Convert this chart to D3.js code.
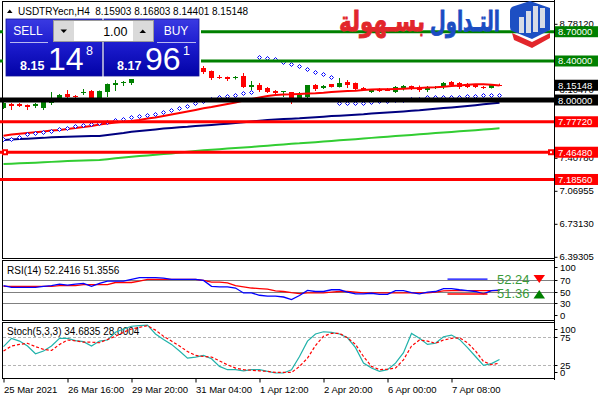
<!DOCTYPE html>
<html><head><meta charset="utf-8">
<script src="https://cdn.jsdelivr.net/npm/d3@7"></script>
<style>body{margin:0;background:#fff}svg{display:block}</style>
</head><body><svg id="c" width="600" height="400"></svg>
<script>
// ---------- DATA ----------
const symbol = "USDTRYecn,H4";
const xTickIndex = [0,8,16,24,32,40,48,56];
const xTickLabels = ["25 Mar 2021","26 Mar 16:00","29 Mar 20:00","31 Mar 04:00","1 Apr 12:00","2 Apr 20:00","6 Apr 00:00","7 Apr 08:00"];
const open = [7.9180,7.9641,7.9590,7.9488,7.9385,7.9231,7.9693,8.0000,8.0615,8.0410,
 8.0718,8.0923,8.0205,8.0820,8.1538,8.1743,8.1743,8.2870,8.2563,8.3485,
 8.4100,8.3690,8.4305,8.3895,8.3485,8.3280,8.2973,8.2409,8.2358,8.2255,
 8.2460,8.1333,8.1538,8.1230,8.0923,8.0871,8.0820,8.0205,8.0308,8.1538,
 8.1230,8.1640,8.1333,8.1845,8.1743,8.1230,8.0820,8.1128,8.1179,8.0820,
 8.1128,8.1435,8.1333,8.1025,8.1230,8.1435,8.1845,8.1743,8.1640,8.1538,
 8.1333,8.1230,8.15903];
const high = [7.9795,7.9693,7.9693,7.9539,7.9693,7.9898,8.0820,8.0615,8.1025,8.0513,
 8.1128,8.1025,8.0974,8.1691,8.2050,8.1948,8.2358,8.3075,8.3690,8.4305,
 8.4356,8.4438,8.4305,8.4100,8.3690,8.3485,8.3024,8.2563,8.2409,8.2460,
 8.2768,8.1948,8.1743,8.1333,8.1025,8.0923,8.0820,8.0820,8.1538,8.1640,
 8.1538,8.1640,8.2255,8.2050,8.1794,8.1333,8.1128,8.1230,8.1230,8.1435,
 8.1538,8.1486,8.1486,8.1435,8.1435,8.1845,8.1948,8.1845,8.1743,8.1640,
 8.1435,8.1589,8.16803];
const low = [7.9078,7.8975,7.9283,7.8975,7.9180,7.8975,7.9488,7.9898,8.0205,8.0205,
 8.0513,8.0103,8.0154,8.0308,8.0923,8.1435,8.1538,8.2153,8.2153,8.3280,
 8.2153,8.3485,8.3690,8.3280,8.2973,8.2665,8.2050,8.2153,8.1948,8.2101,
 8.1230,8.1025,8.0820,8.0718,8.0615,8.0308,7.9590,8.0103,8.0205,8.0923,
 8.1128,8.1281,8.1281,8.1230,8.1025,8.0923,8.0718,8.0820,8.0923,8.0718,
 8.0974,8.1025,8.0820,8.0820,8.1128,8.1128,8.1333,8.1128,8.1230,8.1230,
 8.1128,8.1179,8.14401];
const close = [7.9693,7.9385,7.9385,7.9283,7.9590,7.9795,7.9846,8.0513,8.0359,8.0308,
 8.0820,8.0205,8.0923,8.1640,8.1743,8.1845,8.2255,8.2563,8.3485,8.4100,
 8.3690,8.4305,8.3895,8.3485,8.3178,8.2870,8.2255,8.2306,8.2153,8.2409,
 8.1333,8.1538,8.1025,8.0820,8.0718,8.0923,8.0205,8.0513,8.1538,8.1128,
 8.1435,8.1333,8.1743,8.1538,8.1128,8.1025,8.1025,8.0923,8.0974,8.1333,
 8.1435,8.1128,8.1025,8.1230,8.1333,8.1743,8.1538,8.1333,8.1333,8.1333,
 8.1230,8.1538,8.15148];
const maFast = [7.634,7.646,7.654,7.662,7.669,7.677,7.687,7.692,7.703,7.713,
 7.723,7.733,7.749,7.759,7.769,7.778,7.785,7.795,7.810,7.821,
 7.836,7.851,7.867,7.882,7.898,7.915,7.928,7.944,7.959,7.974,
 7.995,8.010,8.026,8.041,8.051,8.056,8.058,8.062,8.066,8.069,
 8.074,8.082,8.087,8.092,8.095,8.103,8.108,8.110,8.110,8.113,
 8.116,8.120,8.123,8.128,8.130,8.136,8.144,8.149,8.156,8.161,
 8.161,8.156,8.149];
const maMid = [7.590,7.595,7.600,7.604,7.608,7.612,7.618,7.621,7.624,7.626,
 7.628,7.630,7.631,7.641,7.652,7.662,7.674,7.682,7.690,7.699,
 7.707,7.713,7.720,7.726,7.734,7.739,7.745,7.751,7.757,7.764,
 7.771,7.780,7.788,7.795,7.801,7.805,7.809,7.812,7.818,7.824,
 7.829,7.835,7.840,7.845,7.850,7.854,7.861,7.866,7.872,7.877,
 7.883,7.889,7.895,7.903,7.910,7.917,7.924,7.931,7.939,7.947,
 7.956,7.964,7.972];
const maSlow = [7.344,7.348,7.351,7.354,7.358,7.362,7.366,7.371,7.375,7.377,
 7.380,7.382,7.385,7.393,7.402,7.410,7.419,7.426,7.432,7.438,
 7.446,7.453,7.462,7.470,7.478,7.484,7.490,7.496,7.502,7.508,
 7.513,7.519,7.525,7.532,7.539,7.545,7.552,7.556,7.562,7.568,
 7.574,7.581,7.587,7.593,7.599,7.605,7.612,7.618,7.624,7.630,
 7.636,7.642,7.648,7.655,7.661,7.667,7.673,7.679,7.685,7.691,
 7.698,7.704,7.710];
const sar = [7.6003,7.6033,7.6177,7.6484,7.6587,7.6689,7.6823,7.6997,7.7161,7.7335,
 7.7468,7.7571,7.7673,7.7776,7.7950,7.8083,7.8258,7.8360,7.8432,7.8534,
 7.8801,7.8944,7.9211,7.9436,7.9662,7.9898,8.0103,8.0338,8.0441,8.0513,
 8.0687,8.0851,8.4438,8.4336,8.4172,8.3946,8.3721,8.3485,8.3147,8.2839,
 8.2634,8.2327,7.9723,7.9723,7.9723,7.9723,7.9816,7.9877,7.9939,8.0000,
 8.0051,8.0103,8.0144,8.0277,8.0277,8.0308,8.0308,8.0338,8.0410,8.0410,
 8.0482,8.0513,8.0543];
const levelPrices = [8.70000, 8.40000, 8.00000, 7.77720, 7.46480, 7.18560];
const priceTicks = [8.78120, 8.10470, 7.40780, 7.06955, 6.73130, 6.39305];
const rsi = [60,57,57,57,57,59,60,62.6,61,62.6,
 64,59,64,68,68,68,71,74,74,74,
 73,71,71,71,71,69,59,58,58,56,
 47.5,47.5,43.5,42,42,40.5,36,43,52,50,
 50,53,53,49,46,46,47,45,45,51.6,
 51.6,48,46,49,50,55,55,53,51.6,50,
 46,51.6,52.2416];
const rsiSignal = [59,59,59,59,59,59,59,60,60,60,
 62,62,62,62,65.5,65.5,65.5,68,71,71,
 71,71,71,71,71,69,66,66,65,60,
 58,56,55,54,51,50,48,46.5,47.5,47.5,
 47.5,49,50,50,49,47.5,47.5,47.5,47.5,47.5,
 47.5,47.5,47.5,47.5,49,51,51.5,51.5,51.5,51.5,
 51.4,51.4,51.3556];
const rsiLevels = [70,50,30];
const rsiTicks = [100,70,50,30,0];
const rsiMarks = [71.5, 45.7];
const rsiMarkSpan = [55.5, 60.5];
const stochMain = [58,73,68,59,45,50,59,73,73,69,
 67,59,68,70,84,90,95,96,97,81,
 71,62,50,37,39,42,36,22,16,16,
 14,16,16,13,10,10,16,40,68,81,
 85,84,81,74,56,28,19,13,16,28,
 47,82,73,62,64,76,79,71,56,40,
 24,27,34.6835];
const stochSignal = [50,59,62,64,58,53,51,62,70,68.5,
 66,66,65,71,77,84,90,93,96,88,
 77,68,59,49,42,40,39,32,25,19,
 16,15,14,13,11,11,11,22,37,60,
 77,82,82,74,62,40,22,16,17,19,
 34,59,70,68,64,70,73,74,65,50,
 31,25,28.0004];
const stochLevels = [75,25];
const stochTicks = [100,75,25,0];
const askPrice = 8.17961;
const lotSize = "1.00";

// ---------- SCALES ----------
const N = close.length;
const svg = d3.select("#c");
const FONT = "Liberation Sans, Arial, sans-serif";
const x = d3.scaleLinear().domain([0, N-1]).range([3.5, 499.5]);
const y = d3.scaleLinear().domain([6.39305, 8.78120]).range([256.8, 23.8]);
const yR = d3.scaleLinear().domain([0,100]).range([320.5, 262.5]);
const yS = d3.scaleLinear().domain([0,100]).range([378.5, 323.5]);
const f5 = d3.format(".5f");

const defs = svg.append("defs");
[["cm",3,2,551,256],["cr",3,261,551,59],["cs",3,323,551,55]].forEach(([id,cx,cy,w,h])=>{
  defs.append("clipPath").attr("id",id).append("rect").attr("x",cx).attr("y",cy).attr("width",w).attr("height",h);
});
const grad = defs.append("linearGradient").attr("id","pg").attr("x1",0).attr("y1",0).attr("x2",0).attr("y2",1);
grad.append("stop").attr("offset","0%").attr("stop-color","#3a3ae2");
grad.append("stop").attr("offset","45%").attr("stop-color","#1c1cce");
grad.append("stop").attr("offset","100%").attr("stop-color","#0202a6");

// ---------- FRAMES ----------
svg.append("rect").attr("x",2.5).attr("y",1.5).attr("width",552).attr("height",257).attr("fill","none").attr("stroke","#000");
svg.append("rect").attr("x",2.5).attr("y",260.5).attr("width",552).attr("height",60).attr("fill","none").attr("stroke","#000");
svg.append("rect").attr("x",2.5).attr("y",322.5).attr("width",552).attr("height",56).attr("fill","none").attr("stroke","#000");
svg.append("line").attr("x1",554.5).attr("x2",554.5).attr("y1",0).attr("y2",380).attr("stroke","#000");

// ---------- PRICE AXIS ----------
const pAxis = svg.append("g").attr("transform","translate(554.5,0)")
  .call(d3.axisRight(y).tickValues(priceTicks).tickFormat(f5).tickSize(3).tickPadding(2));
pAxis.select(".domain").remove();
pAxis.selectAll("text").attr("font-family",FONT).attr("font-size",9.5).attr("fill","#000");

// ---------- MAIN CHART ----------
const main = svg.append("g").attr("clip-path","url(#cm)");
const line = d3.line().x((d,i)=>x(i)).y(d=>y(d));
main.append("path").attr("d",line(maSlow)).attr("fill","none").attr("stroke","#32cd32").attr("stroke-width",2);
main.append("path").attr("d",line(maMid)).attr("fill","none").attr("stroke","#000080").attr("stroke-width",2);

const idx = d3.range(N);
const col = i => close[i] >= open[i] ? "#008000" : "#ff0000";
main.append("g").selectAll("line").data(idx).join("line")
  .attr("x1",i=>x(i)).attr("x2",i=>x(i)).attr("y1",i=>y(high[i])).attr("y2",i=>y(low[i])).attr("stroke",col);
main.append("g").selectAll("rect").data(idx).join("rect")
  .attr("x",i=>x(i)-2.5).attr("width",5)
  .attr("y",i=>Math.round(y(Math.max(open[i],close[i]))))
  .attr("height",i=>Math.max(1,Math.round(y(Math.min(open[i],close[i])))-Math.round(y(Math.max(open[i],close[i])))))
  .attr("fill",col);
main.append("path").attr("d",line(maFast)).attr("fill","none").attr("stroke","#ff0000").attr("stroke-width",2);
main.append("g").selectAll("path").data(idx).join("path")
  .attr("d",i=>{const cx=x(i), cy=Math.round(y(sar[i]))+0.5; return `M${cx},${cy-2}L${cx+2},${cy}L${cx},${cy+2}L${cx-2},${cy}Z`;})
  .attr("fill","#fff").attr("stroke","#0000ff").attr("stroke-width",1);

// horizontal level lines
const levelColors = ["#008000","#008000","#000000","#ff0000","#ff0000","#ff0000"];
const levelWidths = [3,3,5,3,3,3];
svg.append("g").selectAll("line").data(levelPrices).join("line")
  .attr("x1",0).attr("x2",554).attr("y1",d=>y(d)).attr("y2",d=>y(d))
  .attr("stroke",(d,i)=>levelColors[i]).attr("stroke-width",(d,i)=>levelWidths[i]);
[2,548].forEach(ax=>{
  svg.append("rect").attr("x",ax).attr("y",y(levelPrices[4])-3).attr("width",6).attr("height",6).attr("fill","#ff0000");
  svg.append("rect").attr("x",ax+2).attr("y",y(levelPrices[4])-1).attr("width",2).attr("height",2).attr("fill","#fff");
});

function axisLabel(price, bg){
  const cy = y(price);
  svg.append("rect").attr("x",555).attr("y",cy-5.5).attr("width",43).attr("height",11).attr("fill",bg);
  svg.append("text").attr("x",558).attr("y",cy+3.5).attr("font-family",FONT).attr("font-size",9.5)
    .attr("fill","#fff").text(f5(price));
}
levelPrices.forEach((p,i)=>axisLabel(p, levelColors[i]));
axisLabel(close[N-1], "#000");

// header
svg.append("path").attr("d","M7,13L12.5,13L9.75,9.5Z").attr("fill","#000");
svg.append("text").attr("x",18).attr("y",14.5).attr("font-family",FONT).attr("font-size",10).attr("fill","#000")
  .attr("xml:space","preserve")
  .text(`${symbol}  ${f5(open[N-1])} ${f5(high[N-1])} ${f5(low[N-1])} ${f5(close[N-1])}`);

// ---------- RSI ----------
const rsiG = svg.append("g");
rsiG.selectAll("line.lv").data(rsiLevels).join("line").attr("class","lv")
  .attr("x1",3).attr("x2",554).attr("y1",d=>Math.round(yR(d))+0.5).attr("y2",d=>Math.round(yR(d))+0.5).attr("stroke","#808080");
const rc = rsiG.append("g").attr("clip-path","url(#cr)");
const lineR = d3.line().x((d,i)=>x(i)).y(d=>yR(d));
rc.append("path").attr("d",lineR(rsiSignal)).attr("fill","none").attr("stroke","#ff0000").attr("stroke-width",1.3);
rc.append("path").attr("d",lineR(rsi)).attr("fill","none").attr("stroke","#0000ff").attr("stroke-width",1.3);
const markColors = ["#0000ff","#ff0000"];
rc.selectAll("line.mk").data(rsiMarks).join("line").attr("class","mk")
  .attr("x1",x(rsiMarkSpan[0])).attr("x2",x(rsiMarkSpan[1])).attr("y1",d=>yR(d)).attr("y2",d=>yR(d))
  .attr("stroke",(d,i)=>markColors[i]).attr("stroke-width",1.3);
const fmt2 = d3.format(".2f"), fmt4 = d3.format(".4f");
rsiG.append("text").attr("x",7).attr("y",274).attr("font-family",FONT).attr("font-size",10).attr("fill","#000")
  .text(`RSI(14) ${fmt4(rsi[N-1])} ${fmt4(rsiSignal[N-1])}`);
rsiG.append("text").attr("x",497).attr("y",yR(rsiMarks[0])+4.5).attr("font-family",FONT).attr("font-size",13).attr("fill","#3a9a3a").text(fmt2(rsi[N-1]));
rsiG.append("text").attr("x",497).attr("y",yR(rsiMarks[1])+4.5).attr("font-family",FONT).attr("font-size",13).attr("fill","#3a9a3a").text(fmt2(rsiSignal[N-1]));
rsiG.append("path").attr("d",`M533.5,${yR(rsiMarks[0])-4}L545,${yR(rsiMarks[0])-4}L539.25,${yR(rsiMarks[0])+4}Z`).attr("fill","#ff0000");
rsiG.append("path").attr("d",`M533.5,${yR(rsiMarks[1])+4.5}L545,${yR(rsiMarks[1])+4.5}L539.25,${yR(rsiMarks[1])-4}Z`).attr("fill","#008000");
rsiTicks.forEach(v=>{
  const ty = Math.max(267.5, Math.min(315.5, Math.round(yR(v))+0.5));
  rsiG.append("line").attr("x1",554.5).attr("x2",557.5).attr("y1",ty).attr("y2",ty).attr("stroke","#000");
  rsiG.append("text").attr("x",560).attr("y",ty+3.5).attr("font-family",FONT).attr("font-size",9.5).attr("fill","#000").text(v);
});

// ---------- STOCH ----------
const stG = svg.append("g");
stG.selectAll("line.lv").data(stochLevels).join("line").attr("class","lv")
  .attr("x1",3).attr("x2",554).attr("y1",d=>Math.round(yS(d))+0.5).attr("y2",d=>Math.round(yS(d))+0.5)
  .attr("stroke","#b4b4b4").attr("stroke-dasharray","3,2");
stG.append("text").attr("x",7).attr("y",335).attr("font-family",FONT).attr("font-size",10).attr("fill","#000")
  .text(`Stoch(5,3,3) ${fmt4(stochMain[N-1])} ${fmt4(stochSignal[N-1])}`);
const sc = stG.append("g").attr("clip-path","url(#cs)");
const lineS = d3.line().x((d,i)=>x(i)).y(d=>yS(d));
sc.append("path").attr("d",lineS(stochMain)).attr("fill","none").attr("stroke","#20b2aa").attr("stroke-width",1.2);
sc.append("path").attr("d",lineS(stochSignal)).attr("fill","none").attr("stroke","#ff0000").attr("stroke-width",1.2).attr("stroke-dasharray","3,2");
stochTicks.forEach(v=>{
  const ty = Math.max(329.5, Math.min(372.5, Math.round(yS(v))+0.5));
  stG.append("line").attr("x1",554.5).attr("x2",557.5).attr("y1",ty).attr("y2",ty).attr("stroke","#000");
  stG.append("text").attr("x",560).attr("y",ty+3.5).attr("font-family",FONT).attr("font-size",9.5).attr("fill","#000").text(v);
});

// ---------- TIME AXIS ----------
const tAxis = svg.append("g").attr("transform","translate(0,378.5)")
  .call(d3.axisBottom(x).tickValues(xTickIndex).tickFormat((d,i)=>xTickLabels[i]).tickSize(4).tickSizeOuter(0));
tAxis.select(".domain").remove();
tAxis.selectAll("text").attr("text-anchor","start").attr("y",14.5).attr("dy",0).attr("x",0)
  .attr("font-family",FONT).attr("font-size",9.5).attr("fill","#000");

// ---------- ONE-CLICK TRADING PANEL ----------
const pn = svg.append("g");
pn.append("rect").attr("x",3).attr("y",17).attr("width",198).attr("height",62).attr("fill","#fff");
pn.append("rect").attr("x",6).attr("y",19).attr("width",96).attr("height",57).attr("fill","url(#pg)").attr("stroke","#12129a").attr("stroke-width",0.8);
pn.append("rect").attr("x",104).attr("y",19).attr("width",95).attr("height",57).attr("fill","url(#pg)").attr("stroke","#12129a").attr("stroke-width",0.8);
pn.append("line").attr("x1",10).attr("x2",48).attr("y1",42.5).attr("y2",42.5).attr("stroke","#b8b8f0");
pn.append("line").attr("x1",157).attr("x2",196).attr("y1",42.5).attr("y2",42.5).attr("stroke","#b8b8f0");
pn.append("text").attr("x",28).attr("y",35).attr("text-anchor","middle").attr("font-family",FONT).attr("font-size",12).attr("fill","#fff").text("SELL");
pn.append("text").attr("x",176).attr("y",35).attr("text-anchor","middle").attr("font-family",FONT).attr("font-size",12).attr("fill","#fff").text("BUY");
pn.append("rect").attr("x",53.5).attr("y",20.5).attr("width",100).attr("height",21).attr("fill","#fff").attr("stroke","#9a9a9a");
pn.append("rect").attr("x",54).attr("y",21).attr("width",20).attr("height",20).attr("fill","#dadada");
pn.append("rect").attr("x",133).attr("y",21).attr("width",20).attr("height",20).attr("fill","#dadada");
pn.append("path").attr("d","M60.5,29.5L67,29.5L63.75,33Z").attr("fill","#000");
pn.append("path").attr("d","M139.5,33L146,33L142.75,29.5Z").attr("fill","#000");
pn.append("text").attr("x",127.5).attr("y",36).attr("text-anchor","end").attr("font-family",FONT).attr("font-size",12.5).attr("fill","#000").text(lotSize);
function priceBlock(p, x0){
  const s = f5(p);
  pn.append("text").attr("x",x0).attr("y",70).attr("font-family",FONT).attr("font-weight","bold").attr("font-size",12.5).attr("fill","#fff").text(s.slice(0,4));
  pn.append("text").attr("x",x0+28).attr("y",70).attr("font-family",FONT).attr("font-size",32).attr("fill","#fff").text(s.slice(4,6));
  pn.append("text").attr("x",x0+66).attr("y",55).attr("font-family",FONT).attr("font-size",12.5).attr("fill","#fff").text(s.slice(6));
}
priceBlock(close[N-1], 20);
priceBlock(askPrice, 117);

// ---------- LOGO ----------
const lg = svg.append("g");
lg.append("path").attr("d","M510,11 Q510,8 513,6.5 L530,1 L550,8 L550,30 L532,39 L512,31 Q510,30 510,27 Z").attr("fill","#1d4fc3");
[[519,17,5,16],[526,11,5,22],[533,6,5,26],[540,8,5,20]].forEach(([bx,by,bw,bh])=>{
  lg.append("rect").attr("x",bx).attr("y",by).attr("width",bw).attr("height",bh).attr("fill","#d7dbe6");
});
lg.append("path").attr("d","M512,33 L532,42 L550,33 L550,38 L532,48 L514,40 Z").attr("fill","#e2262b");
lg.append("text").attr("x",465).attr("y",31).attr("text-anchor","middle").attr("direction","rtl")
  .attr("font-family","DejaVu Sans").attr("font-weight","bold").attr("font-size",28).attr("fill","#1b4cc2")
  .attr("stroke","#1b4cc2").attr("stroke-width",0.8)
  .attr("textLength",70).attr("lengthAdjust","spacingAndGlyphs").text("التـداول");
lg.append("text").attr("x",382).attr("y",31).attr("text-anchor","middle").attr("direction","rtl")
  .attr("font-family","DejaVu Sans").attr("font-weight","bold").attr("font-size",28).attr("fill","#e2262b")
  .attr("stroke","#e2262b").attr("stroke-width",0.8)
  .attr("textLength",86).attr("lengthAdjust","spacingAndGlyphs").text("بسـهولة");
</script></body></html>
